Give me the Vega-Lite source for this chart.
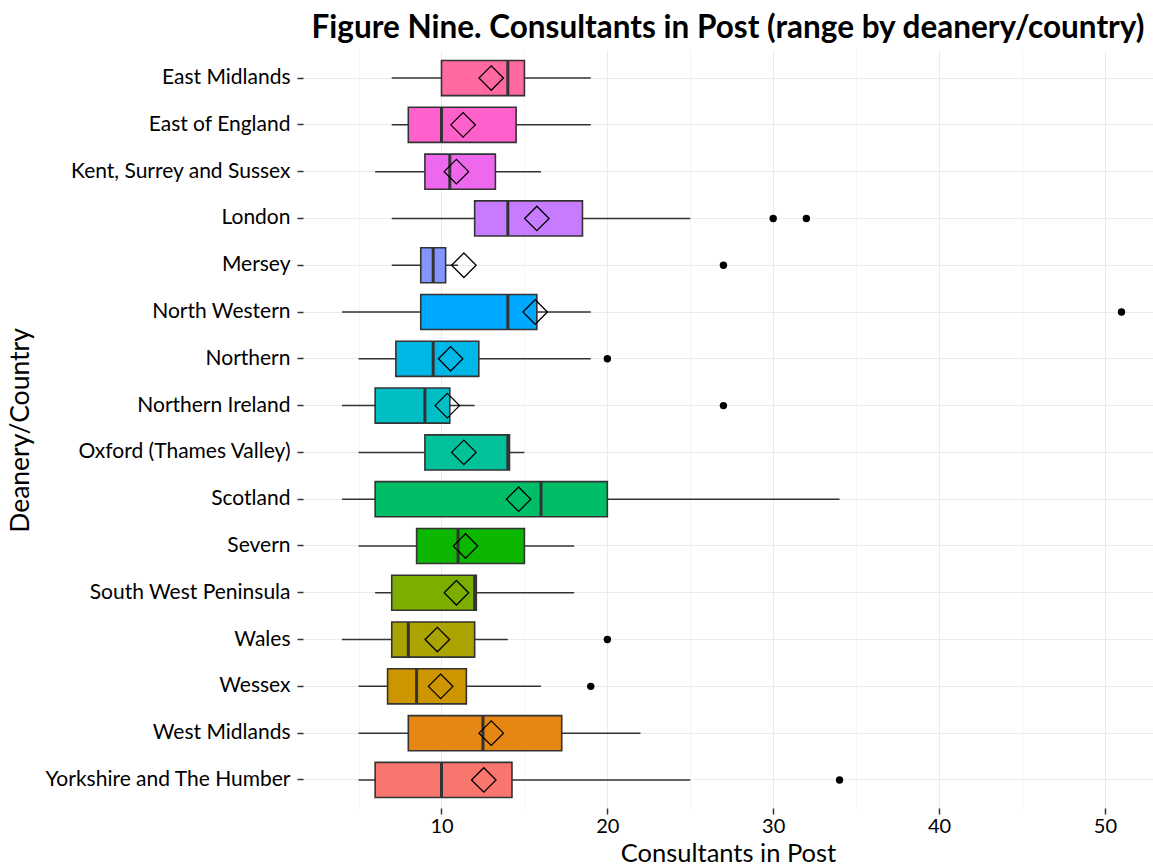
{
  "$schema": "https://vega.github.io/schema/vega-lite/v6.json",
  "autosize": {"type": "none"},
  "padding": {"left": 303, "top": 50, "right": 0, "bottom": 58},
  "width": 850,
  "height": 758,
  "background": "white",
  "title": {
    "text": "Figure Nine. Consultants in Post (range by deanery/country)",
    "font": "Lato",
    "fontSize": 31.5,
    "fontWeight": "bold",
    "color": "black",
    "anchor": "middle",
    "frame": "group",
    "offset": 6
  },
  "config": {
    "view": {"stroke": null},
    "axis": {
      "labelFont": "Lato",
      "titleFont": "Lato",
      "labelColor": "black",
      "titleColor": "black",
      "labelFontSize": 21,
      "titleFontSize": 26.5,
      "titleFontWeight": "normal",
      "labelLimit": 500,
      "domain": false,
      "tickColor": "#333333",
      "tickWidth": 1.5
    }
  },
  "datasets": {
    "stats": [
      {"deanery": "East Midlands", "lo": 7, "q1": 10, "med": 14, "q3": 15, "hi": 19, "mean": 13.0},
      {"deanery": "East of England", "lo": 7, "q1": 8, "med": 10, "q3": 14.5, "hi": 19, "mean": 11.3},
      {"deanery": "Kent, Surrey and Sussex", "lo": 6, "q1": 9, "med": 10.5, "q3": 13.25, "hi": 16, "mean": 10.9},
      {"deanery": "London", "lo": 7, "q1": 12, "med": 14, "q3": 18.5, "hi": 25, "mean": 15.75},
      {"deanery": "Mersey", "lo": 7, "q1": 8.75, "med": 9.5, "q3": 10.25, "hi": 11, "mean": 11.35},
      {"deanery": "North Western", "lo": 4, "q1": 8.75, "med": 14, "q3": 15.75, "hi": 19, "mean": 15.65},
      {"deanery": "Northern", "lo": 5, "q1": 7.25, "med": 9.5, "q3": 12.25, "hi": 19, "mean": 10.55},
      {"deanery": "Northern Ireland", "lo": 4, "q1": 6, "med": 9, "q3": 10.5, "hi": 12, "mean": 10.35},
      {"deanery": "Oxford (Thames Valley)", "lo": 5, "q1": 9, "med": 14, "q3": 14.1, "hi": 15, "mean": 11.35},
      {"deanery": "Scotland", "lo": 4, "q1": 6, "med": 16, "q3": 20, "hi": 34, "mean": 14.65},
      {"deanery": "Severn", "lo": 5, "q1": 8.5, "med": 11, "q3": 15, "hi": 18, "mean": 11.45},
      {"deanery": "South West Peninsula", "lo": 6, "q1": 7, "med": 12, "q3": 12.1, "hi": 18, "mean": 10.9},
      {"deanery": "Wales", "lo": 4, "q1": 7, "med": 8, "q3": 12, "hi": 14, "mean": 9.75},
      {"deanery": "Wessex", "lo": 5, "q1": 6.75, "med": 8.5, "q3": 11.5, "hi": 16, "mean": 9.95},
      {"deanery": "West Midlands", "lo": 5, "q1": 8, "med": 12.5, "q3": 17.25, "hi": 22, "mean": 13.0},
      {"deanery": "Yorkshire and The Humber", "lo": 5, "q1": 6, "med": 10, "q3": 14.25, "hi": 25, "mean": 12.55}
    ],
    "outliers": [
      {"deanery": "London", "value": 30},
      {"deanery": "London", "value": 32},
      {"deanery": "Mersey", "value": 27},
      {"deanery": "North Western", "value": 51},
      {"deanery": "Northern", "value": 20},
      {"deanery": "Northern Ireland", "value": 27},
      {"deanery": "Wales", "value": 20},
      {"deanery": "Wessex", "value": 19},
      {"deanery": "Yorkshire and The Humber", "value": 34}
    ]
  },
  "encoding": {
    "y": {
      "field": "deanery",
      "type": "nominal",
      "scale": {
        "domain": ["East Midlands", "East of England", "Kent, Surrey and Sussex", "London", "Mersey", "North Western", "Northern", "Northern Ireland", "Oxford (Thames Valley)", "Scotland", "Severn", "South West Peninsula", "Wales", "Wessex", "West Midlands", "Yorkshire and The Humber"],
        "paddingInner": 0,
        "paddingOuter": 0.1
      },
      "axis": {
        "title": "Deanery/Country",
        "grid": true,
        "gridColor": "#EBEBEB",
        "gridWidth": 1,
        "bandPosition": 0.5,
        "tickBand": "center",
        "tickExtra": false,
        "tickSize": 6,
        "labelPadding": 7,
        "titleX": -283,
        "titleY": 380,
        "titleAngle": -90,
        "titleAlign": "center",
        "titleBaseline": "middle"
      }
    }
  },
  "layer": [
    {
      "data": {"name": "stats"},
      "mark": {"type": "rule", "color": "#333333", "strokeWidth": 1.5},
      "encoding": {
        "x": {
          "field": "lo",
          "type": "quantitative",
          "scale": {"domain": [1.65, 52.9], "nice": false, "zero": false},
          "axis": {
            "title": "Consultants in Post",
            "values": [5, 10, 15, 20, 25, 30, 35, 40, 45, 50],
            "grid": true,
            "gridColor": {"condition": {"test": "datum.value % 10 === 0", "value": "#EBEBEB"}, "value": "#F4F4F4"},
            "gridWidth": 1,
            "tickOpacity": {"condition": {"test": "datum.value % 10 === 0", "value": 1}, "value": 0},
            "labelExpr": "datum.value % 10 === 0 ? datum.label : ''",
            "tickSize": 6,
            "labelPadding": 2,
            "labelFontSize": 20,
            "titleFontSize": 25.5,
            "titleY": 53,
            "titleBaseline": "alphabetic",
            "titleAlign": "center",
            "titleX": 425
          }
        },
        "x2": {"field": "hi"}
      }
    },
    {
      "data": {"name": "stats"},
      "mark": {"type": "bar", "stroke": "#333333", "strokeWidth": 1.6, "height": {"band": 0.75}},
      "encoding": {
        "x": {"field": "q1", "type": "quantitative"},
        "x2": {"field": "q3"},
        "fill": {
          "field": "deanery",
          "type": "nominal",
          "legend": null,
          "scale": {
            "domain": ["Yorkshire and The Humber", "West Midlands", "Wessex", "Wales", "South West Peninsula", "Severn", "Scotland", "Oxford (Thames Valley)", "Northern Ireland", "Northern", "North Western", "Mersey", "London", "Kent, Surrey and Sussex", "East of England", "East Midlands"],
            "range": ["#F8766D", "#E68613", "#CD9600", "#ABA300", "#7CAE00", "#0CB702", "#00BE67", "#00C19A", "#00BFC4", "#00B8E7", "#00A9FF", "#8494FF", "#C77CFF", "#ED68ED", "#FF61CC", "#FF68A1"]
          }
        }
      }
    },
    {
      "data": {"name": "stats"},
      "mark": {"type": "tick", "color": "#333333", "thickness": 3, "size": 35, "opacity": 1},
      "encoding": {
        "x": {"field": "med", "type": "quantitative"}
      }
    },
    {
      "data": {"name": "stats"},
      "mark": {"type": "point", "shape": "diamond", "filled": false, "stroke": "black", "strokeWidth": 1.3, "size": 600, "opacity": 1},
      "encoding": {
        "x": {"field": "mean", "type": "quantitative"}
      }
    },
    {
      "data": {"name": "outliers"},
      "mark": {"type": "circle", "color": "black", "size": 55, "opacity": 1},
      "encoding": {
        "x": {"field": "value", "type": "quantitative"}
      }
    }
  ]
}
